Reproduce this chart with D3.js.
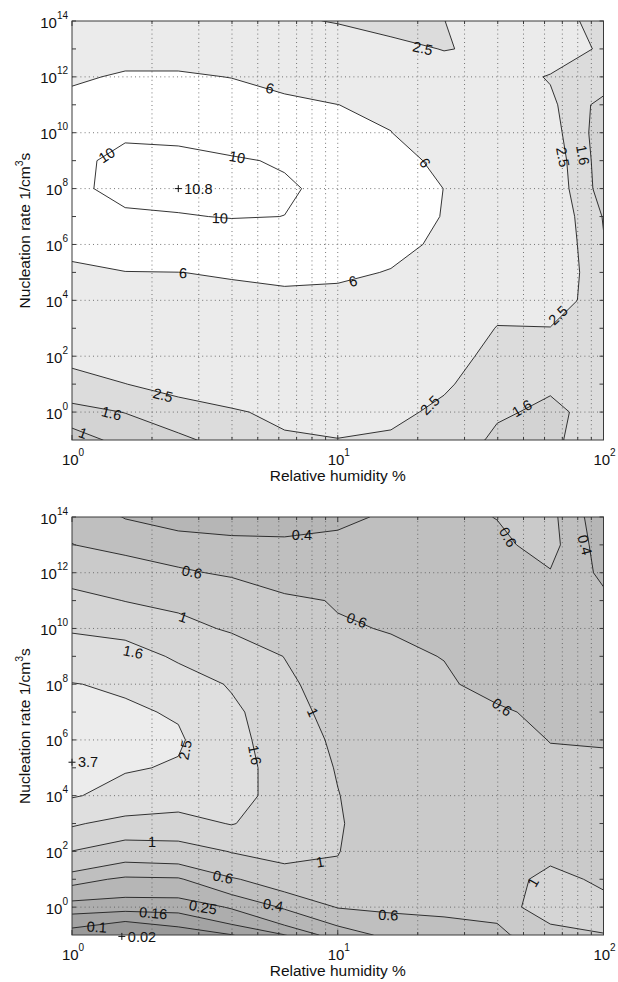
<!DOCTYPE html>
<html><head><meta charset="utf-8">
<script src="https://cdn.jsdelivr.net/npm/d3@7/dist/d3.min.js"></script>
<style>html,body{margin:0;padding:0;background:#fff;} svg{display:block;}</style>
</head><body>
<svg id="chart" width="618" height="982"></svg>
<script>
// ---------- data ----------
// grid: relative humidity (%) columns, nucleation rate (1/cm^3 s) rows
const rhGrid = [1, 1.585, 2.512, 3.981, 6.310, 10, 15.85, 25.12, 39.81, 63.10, 100];
const jGrid = [1e-1, 1e0, 1e1, 1e2, 1e3, 1e4, 1e5, 1e6, 1e7, 1e8, 1e9, 1e10, 1e11, 1e12, 1e13, 1e14];

// upper panel (rows: J = 1e-1 ... 1e14)
const topLevels = [1, 1.6, 2.5, 6, 10];
const topZ = [
 [0.68, 1.23, 1.48, 1.82, 2.39, 2.48, 2.33, 2.10, 1.45, 1.55, 1.75],
 [1.43, 1.615,1.95, 2.40, 2.70, 2.80, 2.80, 2.24, 1.70, 1.46, 1.85],
 [1.97, 2.48, 2.97, 3.10, 3.20, 3.20, 3.30, 2.67, 1.82, 1.70, 1.90],
 [2.90, 3.30, 3.60, 3.80, 3.80, 3.70, 3.90, 3.00, 2.14, 2.10, 2.00],
 [3.60, 4.10, 4.40, 4.60, 4.50, 4.30, 4.50, 3.50, 2.45, 2.47, 2.20],
 [4.30, 5.00, 5.20, 5.50, 5.30, 5.00, 5.10, 4.20, 2.95, 3.12, 1.90],
 [5.04, 5.92, 5.98, 6.17, 6.70, 6.64, 5.83, 4.80, 3.40, 3.36, 1.80],
 [7.50, 8.20, 8.50, 8.67, 8.20, 8.40, 7.04, 5.31, 3.70, 3.38, 1.65],
 [8.80, 9.72, 9.87, 10.10,9.99, 9.40, 7.60, 5.86, 3.90, 3.30, 1.55],
 [9.58, 10.60,10.80,10.60,10.17,9.64, 7.70, 5.97, 4.00, 3.20, 1.20],
 [9.69, 10.35,10.50,10.15,9.87, 8.80, 7.20, 5.20, 3.80, 3.10, 1.15],
 [8.50, 9.80, 9.55, 9.30, 8.60, 7.60, 6.05, 4.00, 3.50, 2.90, 1.10],
 [7.00, 8.20, 8.00, 7.50, 6.80, 6.02, 5.34, 3.40, 3.20, 2.70, 1.25],
 [5.50, 6.40, 6.40, 5.93, 4.75, 4.20, 3.90, 2.90, 3.00, 2.42, 2.34],
 [4.80, 4.50, 4.50, 4.00, 3.20, 3.58, 2.73, 2.47, 2.62, 3.22, 2.31],
 [4.00, 3.80, 3.60, 3.20, 2.80, 2.38, 2.20, 2.49, 2.99, 3.00, 2.09]
];
const topColors = ['#c9c9c9', '#d3d3d3', '#dcdcdc', '#ebebeb', '#ffffff', '#ffffff'];

// lower panel
const bottomLevels = [0.1, 0.16, 0.25, 0.4, 0.6, 1, 1.6, 2.5];
const bottomZ = [
 [0.07, 0.02, 0.065,0.098,0.158,0.30, 0.45, 0.50, 0.55, 0.75, 0.986],
 [0.19, 0.185,0.185,0.26, 0.42, 0.61, 0.64, 0.654,0.67, 1.39, 1.19],
 [0.46, 0.37, 0.38, 0.57, 0.75, 0.95, 0.75, 0.72, 0.70, 1.20, 0.88],
 [0.99, 0.745,0.78, 1.02, 1.20, 1.01, 0.80, 0.75, 0.72, 0.78, 0.78],
 [1.68, 1.37, 1.375,1.63, 1.30, 1.03, 0.80, 0.75, 0.72, 0.72, 0.72],
 [2.57, 2.22, 1.92, 1.90, 1.30, 1.01, 0.80, 0.75, 0.70, 0.68, 0.66],
 [3.70, 2.57, 2.43, 1.95, 1.25, 0.978,0.80, 0.74, 0.68, 0.63, 0.62],
 [3.40, 2.75, 2.60, 1.85, 1.20, 0.937,0.78, 0.72, 0.66, 0.596,0.592],
 [3.00, 2.62, 2.42, 1.75, 1.15, 0.867,0.75, 0.68, 0.63, 0.55, 0.56],
 [2.53, 2.38, 2.00, 1.53, 1.10, 0.755,0.70, 0.63, 0.527,0.52, 0.53],
 [1.95, 2.00, 1.47, 1.30, 0.99, 0.70, 0.64, 0.594,0.50, 0.50, 0.50],
 [1.53, 1.31, 1.15, 0.94, 0.85, 0.62, 0.59, 0.56, 0.48, 0.50, 0.47],
 [1.15, 0.99, 0.88, 0.75, 0.65, 0.584,0.55, 0.54, 0.49, 0.53, 0.443],
 [0.80, 0.75, 0.63, 0.57, 0.45, 0.50, 0.52, 0.53, 0.52, 0.589,0.356],
 [0.605,0.51, 0.48, 0.45, 0.42, 0.43, 0.48, 0.54, 0.56, 0.67, 0.30],
 [0.52, 0.392,0.32, 0.30, 0.35, 0.373,0.418,0.55, 0.605,0.656,0.256]
];
const bottomColors = ['#999999', '#a3a3a3', '#adadad', '#b6b6b6', '#bfbfbf', '#cacaca', '#d5d5d5', '#dfdfdf', '#ececec'];

// axes
const xTickValues = [1, 10, 100];
const xTickExp = ['0', '1', '2'];
const xMinorValues = [2, 3, 4, 5, 6, 7, 8, 9, 20, 30, 40, 50, 60, 70, 80, 90];
const xGridValues = [2, 3, 4, 5, 6, 7, 8, 9, 10, 20, 30, 40, 50, 60, 70, 80, 90];
const yTickValues = [1e0, 1e2, 1e4, 1e6, 1e8, 1e10, 1e12, 1e14];
const yTickExp = ['0', '2', '4', '6', '8', '10', '12', '14'];
const yMinorValues = [1e1, 1e3, 1e5, 1e7, 1e9, 1e11, 1e13];
const yGridValues = [1e0, 1e2, 1e4, 1e6, 1e8, 1e10, 1e12];

// contour labels (text, RH %, log10 J, rotation deg)
const topLabelText  = ['6', '6', '6', '6', '10', '10', '10', '2.5', '2.5', '1.6', '2.5', '2.5', '1.6', '2.5', '1.6', '1'];
const topLabelRH    = [5.56, 21.3, 2.62, 11.4, 1.35, 4.18, 3.6, 20.9, 70.4, 83.7, 67.4, 22.2, 49.3, 2.2, 1.41, 1.1];
const topLabelLogJ  = [11.6, 8.92, 4.98, 4.69, 9.2, 9.13, 6.95, 13.03, 9.13, 9.2, 3.47, 0.25, 0.14, 0.61, -0.04, -0.75];
const topLabelAngle = [14, 55, 3, -16, -33, 10, 1, 13, 80, 80, -44, -45, -30, 15, 15, 20];

const bottomLabelText  = ['0.4', '0.6', '1', '1.6', '1', '0.6', '0.6', '0.6', '0.4', '2.5', '1.6', '1', '0.6', '0.25', '0.4', '0.16', '0.1', '0.6', '1', '1'];
const bottomLabelRH    = [7.33, 2.83, 2.62, 1.7, 8.07, 11.8, 41.5, 43.7, 85.2, 2.66, 4.88, 2.0, 3.7, 3.11, 5.71, 2.02, 1.24, 15.5, 8.58, 54.3];
const bottomLabelLogJ  = [13.35, 12.03, 10.41, 9.16, 7.0, 10.3, 7.18, 13.28, 13.0, 5.64, 5.46, 2.34, 1.08, 0.0, 0.08, -0.21, -0.71, -0.28, 1.62, 0.9];
const bottomLabelAngle = [0, 12, 18, 12, 65, 20, 35, 60, 75, -80, 80, 0, 12, 10, 10, 5, 3, 3, -10, -60];

// extreme markers (text, RH, log10 J)
const topExtText = ['10.8'];
const topExtRH = [2.512];
const topExtLogJ = [8];
const bottomExtText = ['3.7', '0.02'];
const bottomExtRH = [1, 1.54];
const bottomExtLogJ = [5.2, -1.05];

// ---------- drawing ----------
const FONT = '"Liberation Sans", Arial, Helvetica, sans-serif';
const svg = d3.select('#chart');
svg.append('rect').attr('width', 618).attr('height', 982).attr('fill', '#fff');
const defs = svg.append('defs');

function drawPanel(o) {
  const x = d3.scaleLog().domain([1, 100]).range([o.left, o.right]);
  const y = d3.scaleLog().domain([0.1, 1e14]).range([o.bottom, o.top]);
  const W = o.right - o.left, H = o.bottom - o.top;
  defs.append('clipPath').attr('id', 'clip' + o.id)
    .append('rect').attr('x', o.left).attr('y', o.top).attr('width', W).attr('height', H);

  const g = svg.append('g');
  const plot = g.append('g').attr('clip-path', `url(#clip${o.id})`);
  plot.append('rect').attr('x', o.left).attr('y', o.top).attr('width', W).attr('height', H)
    .attr('fill', o.colors[0]);

  const colToLog = d3.scaleLinear().domain(d3.range(rhGrid.length)).range(rhGrid.map(Math.log10));
  const rowToLog = d3.scaleLinear().domain(d3.range(jGrid.length)).range(jGrid.map(Math.log10));
  const tr = d3.geoTransform({
    point(px, py) {
      this.stream.point(x(Math.pow(10, colToLog(px - 0.5))), y(Math.pow(10, rowToLog(py - 0.5))));
    }
  });
  const path = d3.geoPath(tr);
  const cs = d3.contours().size([rhGrid.length, jGrid.length]).thresholds(o.levels)(o.z.flat());

  plot.append('g').selectAll('path').data(cs).join('path')
    .attr('d', path).attr('fill', (d, i) => o.colors[i + 1]).attr('stroke', 'none');

  // dotted grid
  const grid = plot.append('g').attr('stroke', '#555').attr('stroke-width', 0.8)
    .attr('stroke-dasharray', '1,3.2').attr('fill', 'none');
  grid.selectAll('line.v').data(xGridValues).join('line').attr('class', 'v')
    .attr('x1', d => x(d)).attr('x2', d => x(d)).attr('y1', o.top).attr('y2', o.bottom);
  grid.selectAll('line.h').data(yGridValues).join('line').attr('class', 'h')
    .attr('x1', o.left).attr('x2', o.right).attr('y1', d => y(d)).attr('y2', d => y(d));

  // contour lines
  plot.append('g').selectAll('path').data(cs).join('path')
    .attr('d', path).attr('fill', 'none').attr('stroke', '#1e1e1e').attr('stroke-width', 0.9)
    .attr('stroke-linejoin', 'round');

  // contour labels
  const lab = g.append('g').attr('font-family', FONT).attr('font-size', 14.5).attr('fill', '#111')
    .attr('text-anchor', 'middle');
  o.labelText.forEach((t, i) => {
    const px = x(o.labelRH[i]), py = y(Math.pow(10, o.labelLogJ[i]));
    lab.append('text').attr('transform', `translate(${px},${py}) rotate(${o.labelAngle[i]})`)
      .attr('dy', '0.36em').text(t);
  });

  // extremes
  const ext = g.append('g').attr('font-family', FONT).attr('font-size', 14.5).attr('fill', '#111');
  o.extText.forEach((t, i) => {
    const px = x(o.extRH[i]), py = y(Math.pow(10, o.extLogJ[i]));
    ext.append('path').attr('d', `M${px - 3.5},${py}H${px + 3.5}M${px},${py - 3.5}V${py + 3.5}`)
      .attr('stroke', '#111').attr('stroke-width', 1);
    ext.append('text').attr('x', px + 6).attr('y', py).attr('dy', '0.36em').text(t);
  });

  // frame
  g.append('rect').attr('x', o.left).attr('y', o.top).attr('width', W).attr('height', H)
    .attr('fill', 'none').attr('stroke', '#3a3a3a').attr('stroke-width', 1);

  // ticks (inward, all four sides)
  const ticks = g.append('g').attr('stroke', '#3a3a3a').attr('stroke-width', 1);
  xTickValues.concat(xMinorValues).forEach(v => {
    const L = xTickValues.includes(v) ? 5 : 3;
    ticks.append('line').attr('x1', x(v)).attr('x2', x(v)).attr('y1', o.bottom).attr('y2', o.bottom - L);
    ticks.append('line').attr('x1', x(v)).attr('x2', x(v)).attr('y1', o.top).attr('y2', o.top + L);
  });
  yTickValues.concat(yMinorValues).forEach(v => {
    const L = 4;
    ticks.append('line').attr('x1', o.left).attr('x2', o.left + L).attr('y1', y(v)).attr('y2', y(v));
    ticks.append('line').attr('x1', o.right).attr('x2', o.right - L).attr('y1', y(v)).attr('y2', y(v));
  });

  // tick labels
  const tl = g.append('g').attr('font-family', FONT).attr('fill', '#111');
  xTickValues.forEach((v, i) => {
    const t = tl.append('text').attr('x', x(v) + 1).attr('y', o.bottom + 25).attr('text-anchor', 'middle')
      .attr('font-size', 15);
    t.append('tspan').text('10');
    t.append('tspan').attr('font-size', 10).attr('dy', -9).text(xTickExp[i]);
  });
  yTickValues.forEach((v, i) => {
    const t = tl.append('text').attr('x', o.left - 4).attr('y', y(v) + 6.5).attr('text-anchor', 'end')
      .attr('font-size', 15);
    t.append('tspan').text('10');
    t.append('tspan').attr('font-size', 10).attr('dy', -9).text(yTickExp[i]);
  });

  // axis titles
  g.append('text').attr('x', (o.left + o.right) / 2).attr('y', o.bottom + 41)
    .attr('text-anchor', 'middle').attr('font-family', FONT).attr('font-size', 15.5).attr('fill', '#111')
    .text('Relative humidity %');
  const yt = g.append('text')
    .attr('transform', `translate(30,${(o.top + o.bottom) / 2}) rotate(-90)`)
    .attr('text-anchor', 'middle').attr('font-family', FONT).attr('font-size', 15.5).attr('fill', '#111');
  yt.append('tspan').text('Nucleation rate 1/cm');
  yt.append('tspan').attr('font-size', 10.5).attr('dy', -7).text('3');
  yt.append('tspan').attr('dy', 7).text('s');
}

drawPanel({
  id: 'top', left: 72, right: 603.5, top: 21, bottom: 440,
  z: topZ, levels: topLevels, colors: topColors,
  labelText: topLabelText, labelRH: topLabelRH, labelLogJ: topLabelLogJ, labelAngle: topLabelAngle,
  extText: topExtText, extRH: topExtRH, extLogJ: topExtLogJ
});
drawPanel({
  id: 'bottom', left: 72, right: 603.5, top: 517, bottom: 935,
  z: bottomZ, levels: bottomLevels, colors: bottomColors,
  labelText: bottomLabelText, labelRH: bottomLabelRH, labelLogJ: bottomLabelLogJ, labelAngle: bottomLabelAngle,
  extText: bottomExtText, extRH: bottomExtRH, extLogJ: bottomExtLogJ
});
</script>
</body></html>
